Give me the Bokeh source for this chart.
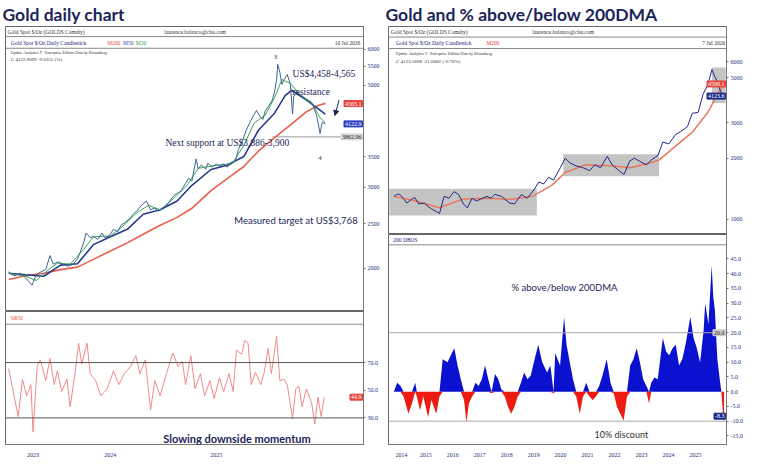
from bokeh.plotting import figure
from bokeh.layouts import row, column
from bokeh.models import (FixedTicker, PrintfTickFormatter, Span, Label, Arrow,
                          NormalHead, Range1d)
from bokeh.embed import file_html
from bokeh.resources import INLINE

# ---------------- data: left panel (gold daily, decimal years) ----------------
gd_t = [2023.54, 2023.56, 2023.60, 2023.65, 2023.70, 2023.74, 2023.76, 2023.80, 2023.84, 2023.89,
        2023.93, 2023.96, 2024.01, 2024.06, 2024.10, 2024.15, 2024.19, 2024.22, 2024.25, 2024.27,
        2024.31, 2024.34, 2024.38, 2024.42, 2024.45, 2024.49, 2024.53, 2024.57, 2024.60, 2024.64,
        2024.68, 2024.72, 2024.75, 2024.79, 2024.84, 2024.88, 2024.92, 2024.95, 2024.99, 2025.03,
        2025.06, 2025.10, 2025.14, 2025.17, 2025.21, 2025.24, 2025.27, 2025.31, 2025.33, 2025.36,
        2025.40, 2025.42, 2025.46, 2025.50, 2025.53, 2025.57, 2025.60, 2025.64, 2025.68, 2025.71,
        2025.75, 2025.78, 2025.81, 2025.85, 2025.88, 2025.91, 2025.94, 2025.96, 2026.00, 2026.03,
        2026.05, 2026.07, 2026.08, 2026.10, 2026.12, 2026.14, 2026.17, 2026.20, 2026.22, 2026.23,
        2026.26, 2026.29, 2026.32, 2026.36, 2026.40, 2026.42, 2026.45, 2026.48, 2026.50, 2026.53]
gd_close = [1965, 1940, 1925, 1950, 1905, 1860, 1835, 1935, 1960, 1985,
            2130, 2040, 2065, 2035, 2020, 2040, 2095, 2180, 2280, 2385,
            2330, 2345, 2310, 2385, 2330, 2355, 2430, 2400, 2480, 2515,
            2560, 2630, 2665, 2735, 2800, 2680, 2705, 2660, 2700, 2735,
            2800, 2880, 2920, 2950, 3060, 3140, 3095, 3460, 3290, 3355,
            3285, 3385, 3320, 3370, 3335, 3375, 3320, 3370, 3425, 3630,
            3800, 3980, 4120, 4300, 4410, 4290, 4215, 4390, 4530, 4650,
            4840, 5160, 5560, 5350, 5030, 5150, 5280, 5030, 4330, 4720,
            4840, 4760, 4720, 4630, 4570, 4480, 4270, 3930, 4160, 4123]

ma200_t = [2023.54, 2023.70, 2023.87, 2024.03, 2024.19, 2024.34, 2024.50, 2024.66, 2024.81, 2024.97,
           2025.13, 2025.27, 2025.45, 2025.60, 2025.76, 2025.90, 2026.05, 2026.21, 2026.35, 2026.46, 2026.53]
ma200 = [1890, 1925, 1950, 1985, 2010, 2090, 2180, 2270, 2370, 2480,
         2580, 2700, 2950, 3130, 3330, 3600, 3850, 4120, 4380, 4520, 4570]

ma50_t = [2023.54, 2023.70, 2023.87, 2024.03, 2024.19, 2024.34, 2024.50, 2024.66, 2024.81, 2024.97,
          2025.13, 2025.27, 2025.45, 2025.60, 2025.76, 2025.90, 2026.05, 2026.15, 2026.21, 2026.35,
          2026.46, 2026.53]
ma50 = [1950, 1935, 1920, 2030, 2045, 2250, 2340, 2430, 2620, 2680,
        2800, 3030, 3280, 3350, 3500, 4000, 4350, 4750, 4880, 4650, 4450, 4330]

ma20_t = [2023.54, 2023.70, 2023.80, 2023.90, 2024.00, 2024.12, 2024.25, 2024.34, 2024.50, 2024.62,
          2024.75, 2024.86, 2024.97, 2025.10, 2025.22, 2025.33, 2025.50, 2025.65, 2025.76, 2025.86,
          2025.96, 2026.05, 2026.12, 2026.20, 2026.30, 2026.40, 2026.48, 2026.53]
ma20 = [1950, 1920, 1880, 1970, 2050, 2040, 2200, 2340, 2350, 2470,
        2640, 2740, 2680, 2840, 3020, 3300, 3350, 3380, 3700, 4150,
        4300, 4700, 5150, 5050, 4750, 4600, 4250, 4150]

rsi_t = [2023.54, 2023.59, 2023.63, 2023.67, 2023.71, 2023.75, 2023.77, 2023.81, 2023.84, 2023.89,
         2023.93, 2023.97, 2024.00, 2024.04, 2024.09, 2024.12, 2024.17, 2024.20, 2024.23, 2024.28,
         2024.31, 2024.36, 2024.41, 2024.47, 2024.53, 2024.58, 2024.63, 2024.69, 2024.74, 2024.78,
         2024.83, 2024.88, 2024.92, 2024.97, 2025.03, 2025.09, 2025.14, 2025.18, 2025.21, 2025.26,
         2025.30, 2025.35, 2025.39, 2025.44, 2025.48, 2025.53, 2025.57, 2025.62, 2025.66, 2025.69,
         2025.74, 2025.77, 2025.80, 2025.83, 2025.87, 2025.92, 2025.95, 2025.99, 2026.02, 2026.07,
         2026.10, 2026.14, 2026.17, 2026.22, 2026.25, 2026.28, 2026.31, 2026.35, 2026.40, 2026.43,
         2026.46, 2026.49, 2026.52]
rsi = [65.6, 46, 31, 58, 46, 54, 20, 68, 72, 57,
       73, 54, 64, 49, 58, 38, 64, 84, 69, 84,
       62, 57, 46, 51, 64, 54, 62, 67, 75, 62,
       72, 36, 57, 46, 62, 77, 67, 71, 54, 75,
       51, 62, 46, 57, 44, 59, 49, 62, 49, 79,
       76, 86, 84, 54, 63, 54, 62, 80, 62, 89,
       57, 58, 54, 29.5, 51, 53, 38, 51, 41, 25.6,
       45, 31, 45]

# ---------------- data: right panels (2014-2026) ----------------
gw_t = [2014.32, 2014.45, 2014.55, 2014.68, 2014.80, 2014.98, 2015.10, 2015.24, 2015.45, 2015.60,
        2015.71, 2015.95, 2016.01, 2016.18, 2016.36, 2016.55, 2016.72, 2016.90, 2017.04, 2017.22,
        2017.38, 2017.52, 2017.77, 2017.92, 2018.06, 2018.31, 2018.45, 2018.61, 2018.79, 2019.05,
        2019.26, 2019.52, 2019.69, 2019.87, 2020.05, 2020.24, 2020.49, 2020.67, 2020.85, 2021.07,
        2021.32, 2021.58, 2021.76, 2021.98, 2022.23, 2022.41, 2022.66, 2022.85, 2023.06, 2023.24,
        2023.42, 2023.68, 2023.86, 2024.11, 2024.29, 2024.51, 2024.77, 2024.95, 2025.20, 2025.38,
        2025.60, 2025.78, 2025.96, 2026.11, 2026.22, 2026.32, 2026.42, 2026.51]
gw_close = [1297, 1330, 1325, 1260, 1202, 1255, 1280, 1190, 1202, 1150,
            1127, 1079, 1067, 1297, 1269, 1369, 1325, 1190, 1139, 1269,
            1230, 1255, 1297, 1270, 1325, 1297, 1250, 1202, 1190, 1325,
            1269, 1400, 1526, 1493, 1610, 1560, 1797, 2000, 1896, 1835,
            1797, 1738, 1855, 1797, 2045, 1855, 1738, 1663, 1937, 2000,
            1937, 1855, 1958, 2067, 2403, 2353, 2622, 2707, 2860, 3330,
            3368, 4140, 4605, 5480, 5030, 4760, 4300, 4123]

gw_ma_t = [2014.32, 2015.10, 2016.00, 2016.90, 2017.80, 2018.70, 2019.45, 2020.17, 2020.67, 2021.40,
           2022.35, 2023.07, 2023.80, 2024.15, 2024.77, 2025.40, 2025.98, 2026.30, 2026.51]
gw_ma200 = [1300, 1235, 1140, 1260, 1270, 1255, 1297, 1470, 1700, 1855,
            1835, 1797, 1896, 1958, 2300, 2700, 3400, 4100, 4520]

box_start = [2014.15, 2020.60, 2026.11]
box_end = [2019.62, 2024.15, 2026.62]
box_low = [1045, 1630, 3750]
box_high = [1415, 2090, 5600]

dma_t = [2014.32, 2014.44, 2014.56, 2014.68, 2014.86, 2014.99, 2015.11, 2015.17, 2015.29, 2015.41,
         2015.59, 2015.71, 2015.89, 2016.01, 2016.13, 2016.31, 2016.43, 2016.56, 2016.68, 2016.80,
         2016.92, 2017.01, 2017.10, 2017.22, 2017.34, 2017.46, 2017.58, 2017.70, 2017.82, 2017.94,
         2018.07, 2018.19, 2018.31, 2018.43, 2018.55, 2018.67, 2018.79, 2018.91, 2019.03, 2019.15,
         2019.27, 2019.39, 2019.51, 2019.67, 2019.82, 2020.00, 2020.12, 2020.24, 2020.30, 2020.48,
         2020.63, 2020.72, 2020.84, 2020.96, 2021.08, 2021.21, 2021.33, 2021.45, 2021.57, 2021.69,
         2021.81, 2021.93, 2022.05, 2022.21, 2022.35, 2022.47, 2022.59, 2022.71, 2022.84, 2022.96,
         2023.08, 2023.20, 2023.32, 2023.44, 2023.56, 2023.68, 2023.78, 2023.86, 2023.98, 2024.10,
         2024.29, 2024.41, 2024.53, 2024.65, 2024.77, 2024.89, 2025.01, 2025.13, 2025.31, 2025.43,
         2025.55, 2025.67, 2025.80, 2025.86, 2025.98, 2026.10, 2026.16, 2026.22, 2026.31, 2026.40,
         2026.46, 2026.52, 2026.56]
dma_pct = [0.0, 3.0, 2.0, -1.6, -7.5, -4.0, 3.0, -1.6, -6.3, -1.6,
           -8.7, -2.8, -7.5, -1.6, 11.0, 10.0, 12.4, 14.7, 8.9, 4.2,
           -2.8, -10.4, -4.0, -1.6, 3.0, 1.9, 4.2, 8.9, 4.2, -0.5,
           6.0, 4.2, 0.7, -1.6, -5.1, -7.5, -5.1, -1.6, 3.0, 6.5,
           4.2, 5.4, 10.0, 15.9, 10.0, 6.5, 8.9, -0.5, 13.0, 8.9,
           25.3, 15.9, 10.0, 4.2, -1.6, -7.5, -1.6, 3.0, -1.6, -2.8,
           -1.6, 1.9, 5.4, 11.0, 3.0, -0.5, -5.1, -7.5, -9.8, -1.6,
           8.9, 11.0, 14.7, 10.0, 4.2, 1.9, -4.0, 3.0, 4.8, 4.2,
           18.2, 13.6, 12.4, 14.7, 15.9, 8.9, 11.0, 15.9, 25.3, 18.2,
           14.7, 10.0, 20.6, 29.9, 22.9, 42.8, 32.3, 27.6, 11.2, 4.2,
           0.0, -7.5, -10.4]

left_years = ["2023", "2024", "2025"]
left_year_mid = [2023.77, 2024.5, 2025.5]
right_years = ["2014", "2015", "2016", "2017", "2018", "2019", "2020", "2021", "2022", "2023", "2024", "2025"]
right_year_mid = [2014.6, 2015.5, 2016.5, 2017.5, 2018.5, 2019.5, 2020.5, 2021.5, 2022.5, 2023.5, 2024.5, 2025.5]

support_level = 3862.96
support_from = 2026.03

# ---------------- styling helpers ----------------
AX = "Liberation Sans Narrow"
NAVY = "#1b2559"
TICKC = "#23307a"


def style_axis(ax, size="6px"):
    ax.major_label_text_font = AX
    ax.major_label_text_font_size = size
    ax.major_label_text_color = TICKC
    ax.axis_line_color = "#777777"
    ax.major_tick_line_color = "#777777"
    ax.major_tick_out = 2
    ax.major_tick_in = 0
    ax.minor_tick_line_color = None
    ax.major_label_standoff = 2


def base(p):
    p.xgrid.visible = False
    p.ygrid.visible = False
    p.outline_line_color = "#666666"
    p.background_fill_color = "white"
    p.border_fill_color = "white"


def tiny(p, x, y, text, size="5.5px", color="#333333", align="left", font=AX, style="normal"):
    p.add_layout(Label(x=x, y=y, text=text, text_font=font, text_font_size=size,
                       text_color=color, text_align=align, text_baseline="middle",
                       text_font_style=style))


def tag(p, y, text, fill, color="white"):
    p.add_layout(Label(x=p.x_range.end, y=y, text=text, x_offset=-1, text_font=AX,
                       text_font_size="6px", text_color=color, text_align="right",
                       text_baseline="middle", background_fill_color=fill,
                       border_line_color=fill, padding=1))


def big_title(p, text):
    p.title.text = text
    p.title.text_font = "Lato"
    p.title.text_font_size = "17.5px"
    p.title.text_font_style = "bold"
    p.title.text_color = NAVY
    p.title.standoff = 3
    p.title.offset = -3


# ---------------- left top: price ----------------
L1 = figure(width=382, height=311, y_axis_type="log", y_axis_location="right", x_axis_location=None,
            x_range=Range1d(2023.51, 2026.89), y_range=Range1d(1609, 6720),
            output_backend="svg", toolbar_location=None, title="Gold daily chart",
            min_border_left=5, min_border_right=2, min_border_top=0, min_border_bottom=0)
base(L1)
big_title(L1, "Gold daily chart")
style_axis(L1.yaxis[0])
L1.yaxis.ticker = FixedTicker(ticks=[2000, 2500, 3000, 3500, 5000, 5500, 6000])
L1.yaxis.formatter = PrintfTickFormatter(format="%d")

L1.add_layout(Span(location=6388, dimension="width", line_color="#888888", line_width=1))
L1.add_layout(Span(location=6025, dimension="width", line_color="#888888", line_width=1))
tiny(L1, 2023.53, 6550, "Gold Spot  $/Oz (GOLDS Comdty)")
tiny(L1, 2025.30, 6550, "laurence.balanco@clsa.com", align="center")
tiny(L1, 2023.56, 6200, "Gold Spot  $/Oz Daily Candlestick", color="#1a237e")
tiny(L1, 2024.47, 6200, "M200", color="#e8453c")
tiny(L1, 2024.62, 6200, "M50", color="#2a3fbf")
tiny(L1, 2024.74, 6200, "M20", color="#2e9e4a")
tiny(L1, 2026.86, 6200, "10 Jul 2026", align="right")
tiny(L1, 2023.56, 5900, "Update Analytics  T - Enterprise Edition  Data by Bloomberg", size="4px")
tiny(L1, 2023.56, 5700, "C 4122.9099  -9.0355 (%)", size="5px")

L1.segment(x0=[support_from], y0=[support_level], x1=[L1.x_range.end], y1=[support_level],
           line_color="#9a9a9a", line_width=1)
L1.line(ma200_t, ma200, line_color="#e8604a", line_width=1.6)
L1.line(ma50_t, ma50, line_color="#253a8c", line_width=1.6)
L1.line(ma20_t, ma20, line_color="#3aa655", line_width=1)
L1.line(gd_t, gd_close, line_color="#3d6590", line_width=1)

tiny(L1, 2026.22, 5300, "US$4,458-4,565", size="9.5px", color=NAVY, font="Liberation Serif")
tiny(L1, 2026.22, 4830, "resistance", size="9.5px", color=NAVY, font="Liberation Serif")
tiny(L1, 2025.02, 3745, "Next support at US$3,886-3,900", size="9.5px", color=NAVY, font="Liberation Serif")
tiny(L1, 2025.67, 2545, "Measured target at US$3,768", size="9.5px", color=NAVY, font="Lato")
tiny(L1, 2026.06, 5760, "3", size="7px", color="#333333", align="center")
tiny(L1, 2026.48, 3470, "4", size="7px", color="#333333", align="center")
L1.add_layout(Arrow(end=NormalHead(size=5, fill_color=NAVY, line_color=NAVY),
                    x_start=2026.66, y_start=4650, x_end=2026.62, y_end=4300,
                    line_color=NAVY, line_width=1))
tag(L1, 4565.1, "4565.1", "#e8453c")
tag(L1, 4122.9, "4122.9", "#2a3fbf")
tag(L1, support_level, "3862.96", "#d9d9d9", color="#222222")

# ---------------- left bottom: RSI ----------------
L2 = figure(width=382, height=148, y_axis_location="right", x_range=L1.x_range,
            y_range=Range1d(10.8, 106.9), output_backend="svg", toolbar_location=None, title=None,
            min_border_left=5, min_border_right=2, min_border_top=0, min_border_bottom=4)
base(L2)
style_axis(L2.yaxis[0])
L2.yaxis.ticker = FixedTicker(ticks=[30, 50, 70])
L2.yaxis.formatter = PrintfTickFormatter(format="%.1f")
style_axis(L2.xaxis[0])
L2.xaxis.ticker = FixedTicker(ticks=left_year_mid)
L2.xaxis.major_label_overrides = {m: y for m, y in zip(left_year_mid, left_years)}
L2.xaxis.major_tick_line_color = None
L2.xaxis.major_label_standoff = 6
L2.add_layout(Span(location=97.7, dimension="width", line_color="#888888", line_width=1))
L2.add_layout(Span(location=70, dimension="width", line_color="#555555", line_width=1))
L2.add_layout(Span(location=30, dimension="width", line_color="#555555", line_width=1))
tiny(L2, 2023.55, 102.3, "%RSI", color="#e8453c")
L2.line(rsi_t, rsi, line_color="#f08a8a", line_width=1)
tiny(L2, 2025.0, 15.4, "Slowing downside momentum", size="11px", color=NAVY, font="Lato", style="bold")
tag(L2, 45, "44.9", "#e8453c")

# ---------------- right top: long-term price ----------------
R1 = figure(width=363, height=234, y_axis_type="log", y_axis_location="right", x_axis_location=None,
            x_range=Range1d(2014.12, 2026.65), y_range=Range1d(841, 8930),
            output_backend="svg", toolbar_location=None, title="Gold and % above/below 200DMA",
            min_border_left=6, min_border_right=3, min_border_top=0, min_border_bottom=0)
base(R1)
big_title(R1, "Gold and % above/below 200DMA")
style_axis(R1.yaxis[0])
R1.yaxis.ticker = FixedTicker(ticks=[1000, 2000, 3000, 5000, 6000])
R1.yaxis.formatter = PrintfTickFormatter(format="%d")
R1.add_layout(Span(location=7920, dimension="width", line_color="#888888", line_width=1))
R1.add_layout(Span(location=6955, dimension="width", line_color="#888888", line_width=1))
tiny(R1, 2014.2, 8410, "Gold Spot  $/Oz (GOLDS Comdty)")
tiny(R1, 2020.6, 8410, "laurence.balanco@clsa.com", align="center")
tiny(R1, 2014.4, 7420, "Gold Spot  $/Oz Daily Candlestick", color="#1a237e")
tiny(R1, 2017.75, 7420, "M200", color="#e8453c")
tiny(R1, 2026.6, 7420, "7 Jul 2026", align="right")
tiny(R1, 2014.4, 6580, "Update Analytics  T - Enterprise Edition  Data by Bloomberg", size="4px")
tiny(R1, 2014.4, 6000, "C 4123.5608  -21.6682 (-0.76%)", size="5px")

R1.quad(left=box_start, right=box_end, bottom=box_low, top=box_high,
        fill_color="#b5b5b5", fill_alpha=0.8, line_color=None)
R1.line(gw_ma_t, gw_ma200, line_color="#e8785e", line_width=1.5)
R1.line(gw_t, gw_close, line_color="#1e2a8a", line_width=1)
tag(R1, 4650, "4590.1", "#e8453c")
tag(R1, 4050, "4123.6", "#1e2a8a")

# ---------------- right bottom: % above/below 200DMA ----------------
pos = [max(v, 0.0) for v in dma_pct]
neg = [min(v, 0.0) for v in dma_pct]
R2 = figure(width=363, height=225, y_axis_location="right", x_range=R1.x_range,
            y_range=Range1d(-17.9, 53.3), output_backend="svg", toolbar_location=None, title=None,
            min_border_left=6, min_border_right=3, min_border_top=0, min_border_bottom=4)
base(R2)
style_axis(R2.yaxis[0])
R2.yaxis.ticker = FixedTicker(ticks=[-15, -10, -5, 0, 5, 10, 15, 20, 25, 30, 35, 40, 45])
R2.yaxis.formatter = PrintfTickFormatter(format="%.1f")
style_axis(R2.xaxis[0])
R2.xaxis.ticker = FixedTicker(ticks=right_year_mid)
R2.xaxis.major_label_overrides = {m: y for m, y in zip(right_year_mid, right_years)}
R2.xaxis.major_tick_line_color = None
R2.xaxis.major_label_standoff = 6
R2.add_layout(Span(location=49.8, dimension="width", line_color="#888888", line_width=1))
R2.add_layout(Span(location=20, dimension="width", line_color="#aaaaaa", line_width=1))
R2.add_layout(Span(location=-10, dimension="width", line_color="#aaaaaa", line_width=1))
tiny(R2, 2014.3, 51.6, "200 DBOS", color="#1a237e")
R2.varea(x=dma_t, y1=0, y2=pos, fill_color="#0a12d0")
R2.varea(x=dma_t, y1=0, y2=neg, fill_color="#ec1c12")
tiny(R2, 2018.68, 35.4, "% above/below 200DMA", size="9.5px", color=NAVY, font="Lato")
tiny(R2, 2021.76, -14.4, "10% discount", size="9px", color="#333333", font="Lato")
tag(R2, 20, "20.0", "#cfcfcf", color="#222222")
tag(R2, -8.3, "-8.3", "#1e2a8a")

layout = row(column(L1, L2), column(R1, R2))
open("out.html", "w").write(file_html(layout, INLINE))
